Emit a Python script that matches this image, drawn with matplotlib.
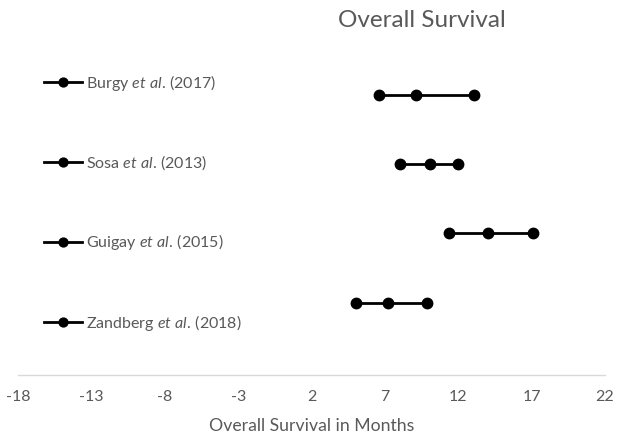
import matplotlib
matplotlib.use('Agg')
import matplotlib.pyplot as plt

# study values (months): lower, median, upper
studies = ['Burgy', 'Sosa', 'Guigay', 'Zandberg']
years = ['2017', '2013', '2015', '2018']
lower = [6.6, 8.0, 11.4, 5.0]
median = [9.1, 10.1, 14.0, 7.2]
upper = [13.1, 12.0, 17.1, 9.9]
rows = [4, 3, 2, 1]
xticks = [-18, -13, -8, -3, 2, 7, 12, 17, 22]

plt.rcParams['font.family'] = ['Lato', 'DejaVu Sans']
plt.rcParams['mathtext.fontset'] = 'custom'
plt.rcParams['mathtext.it'] = 'Lato:italic'
plt.rcParams['mathtext.rm'] = 'Lato'

grey = '#595959'

fig = plt.figure(figsize=(6.17, 4.33), dpi=100)
ax = fig.add_axes([18 / 617, 1 - 374.6 / 433, 587 / 617, 349 / 433])

for name, yr, lo, md, up, r in zip(studies, years, lower, median, upper, rows):
    ax.plot([lo, md, up], [r, r, r], color='black', lw=2, marker='o', ms=7.5,
            label=name + r' $\it{et\ al.}\,$(' + yr + ')')

ax.set_xlim(xticks[0], xticks[-1])
ax.set_ylim(-0.04, 5)
ax.set_xticks(xticks)
ax.set_xticklabels([str(t) for t in xticks])
ax.set_yticks([])
for s in ['top', 'right', 'left']:
    ax.spines[s].set_visible(False)
ax.spines['bottom'].set_color('#d9d9d9')
ax.spines['bottom'].set_linewidth(1)
ax.tick_params(axis='x', length=0, pad=11, labelsize=11.5, labelcolor=grey)

ax.set_xlabel('Overall Survival in Months', fontsize=12.7, color=grey, labelpad=10)
fig.text(0.683, 0.952, 'Overall Survival', ha='center', va='center',
         fontsize=17.5, color=grey)

leg = ax.legend(loc='upper left', bbox_to_anchor=(44 / 617, 1 - 73 / 433),
                bbox_transform=fig.transFigure, frameon=False, fontsize=11.5,
                handlelength=2.4, handletextpad=0.2, labelspacing=3.78,
                borderpad=0, borderaxespad=0, markerscale=0.85)
for t in leg.get_texts():
    t.set_color(grey)

fig.savefig('out.png', dpi=100)
